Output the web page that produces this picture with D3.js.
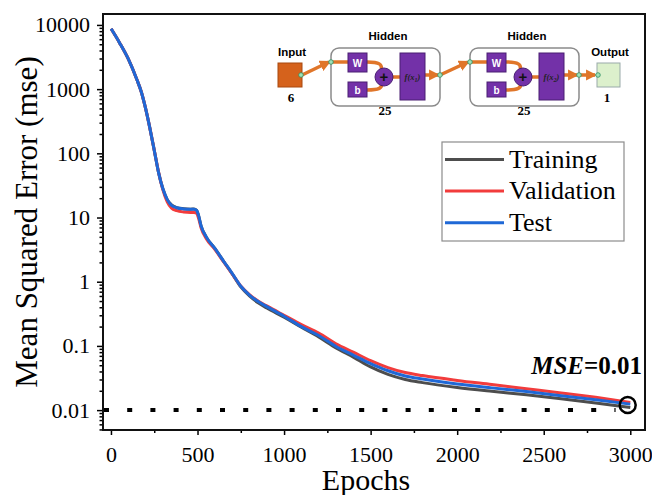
<!DOCTYPE html>
<html>
<head>
<meta charset="utf-8">
<script src="https://cdn.jsdelivr.net/npm/d3@7"></script>
<style>
body { margin:0; background:#fff; }
svg { display:block; }
.serif { font-family:"Times New Roman","Liberation Serif",serif; }
.sans { font-family:Tahoma,"Liberation Sans",Arial,sans-serif; }
</style>
</head>
<body>
<svg width="652" height="495"></svg>
<script>
var epochs = [1, 50, 100, 150, 175, 200, 225, 250, 275, 300, 325, 350, 380, 420, 460, 480, 495, 505, 520, 550, 600, 650, 700, 750, 800, 850, 900, 1000, 1100, 1200, 1300, 1400, 1500, 1600, 1700, 1800, 2000, 2200, 2400, 2600, 2800, 3000]

var training = [8700, 5250, 2950, 1400, 910, 500, 245, 112, 50, 28, 19, 15.8, 14.3, 13.7, 13.5, 13.6, 13.0, 11.0, 7.5, 5.0, 3.3, 2.1, 1.33, 0.83, 0.60, 0.47, 0.39, 0.28, 0.195, 0.138, 0.093, 0.067, 0.047, 0.036, 0.030, 0.0268, 0.0225, 0.0196, 0.0173, 0.0150, 0.0129, 0.0110]
var validation = [8700, 5250, 2950, 1400, 910, 500, 245, 112, 51, 27, 17.5, 14.0, 12.8, 12.2, 12.0, 12.0, 11.6, 10.0, 7.0, 4.7, 3.2, 2.05, 1.33, 0.86, 0.63, 0.50, 0.42, 0.30, 0.215, 0.158, 0.108, 0.080, 0.059, 0.046, 0.0385, 0.0345, 0.0290, 0.0250, 0.0215, 0.0185, 0.0158, 0.0132]
var test = [8700, 5250, 2950, 1400, 910, 500, 245, 112, 50, 28, 19, 15.5, 14.2, 13.6, 13.4, 13.5, 12.9, 11.0, 7.5, 5.0, 3.3, 2.1, 1.35, 0.85, 0.62, 0.49, 0.41, 0.29, 0.20, 0.145, 0.098, 0.072, 0.053, 0.041, 0.034, 0.0305, 0.0255, 0.0222, 0.0195, 0.0168, 0.0145, 0.0124]

var seriesNames = ['Training', 'Validation', 'Test']
var seriesColors = ['#4d4d4d', '#f23c3c', '#1f68d6']

var xTicks = [0, 500, 1000, 1500, 2000, 2500, 3000]
var xMinor = [250, 750, 1250, 1750, 2250, 2750]
var yTicks = [0.01, 0.1, 1, 10, 100, 1000, 10000]
var yTickLabels = ['0.01', '0.1', '1', '10', '100', '1000', '10000']

var goal = 0.01
var finalMark = {epoch: 2985, value: 0.012}

var svg = d3.select('svg')
var plotL = 103, plotT = 14, plotR = 645, plotB = 430

var x = d3.scaleLinear().domain([-46, 3085]).range([plotL, plotR])
var y = d3.scaleLog().domain([0.0049, 14800]).range([plotB, plotT])

// minor log ticks
var yMinor = []
for (var e = -3; e <= 4; e++) {
  for (var m = 2; m <= 9; m++) {
    var v = m * Math.pow(10, e)
    if (v >= y.domain()[0] && v <= y.domain()[1]) yMinor.push(v)
  }
}

// y axis
var yAx = svg.append('g').attr('transform', 'translate(' + plotL + ',0)')
  .call(d3.axisLeft(y).tickValues(yTicks).tickSize(6).tickPadding(7)
    .tickFormat(function(d, i) { return yTickLabels[i] }))
yAx.append('g').call(d3.axisLeft(y).tickValues(yMinor).tickSize(3.5).tickFormat(''))
yAx.selectAll('.domain').remove()
yAx.selectAll('line').attr('stroke', '#000').attr('stroke-width', 1.5)
yAx.selectAll('text').attr('class', 'serif').attr('font-size', 22).attr('fill', '#000')

// x axis
var xAx = svg.append('g').attr('transform', 'translate(0,' + plotB + ')')
  .call(d3.axisBottom(x).tickValues(xTicks).tickSize(5).tickPadding(11).tickFormat(d3.format('d')))
xAx.append('g').call(d3.axisBottom(x).tickValues(xMinor).tickSize(3).tickFormat(''))
xAx.selectAll('.domain').remove()
xAx.selectAll('line').attr('stroke', '#000').attr('stroke-width', 1.5)
xAx.selectAll('text').attr('class', 'serif').attr('font-size', 22).attr('fill', '#000')

// frame
svg.append('rect').attr('x', plotL).attr('y', plotT).attr('width', plotR - plotL).attr('height', plotB - plotT)
  .attr('fill', 'none').attr('stroke', '#111').attr('stroke-width', 2)

// goal line
svg.append('line')
  .attr('x1', plotL + 1).attr('x2', x(2915))
  .attr('y1', y(goal)).attr('y2', y(goal))
  .attr('stroke', '#000').attr('stroke-width', 4)
  .attr('stroke-dasharray', '5,18.2')

// curves
var allSeries = [training, validation, test]
var line = d3.line()
  .x(function(d) { return x(d[0]) })
  .y(function(d) { return y(d[1]) })
  .curve(d3.curveMonotoneX)

allSeries.forEach(function(vals, i) {
  svg.append('path')
    .datum(epochs.map(function(ep, j) { return [ep, vals[j]] }))
    .attr('d', line)
    .attr('fill', 'none')
    .attr('stroke', seriesColors[i])
    .attr('stroke-width', 3)
    .attr('stroke-linejoin', 'round')
})

// final mse marker
svg.append('circle')
  .attr('cx', x(finalMark.epoch)).attr('cy', y(finalMark.value)).attr('r', 8)
  .attr('fill', 'none').attr('stroke', '#000').attr('stroke-width', 2.5)

var mseText = svg.append('text').attr('class', 'serif')
  .attr('x', 642).attr('y', 374).attr('text-anchor', 'end')
  .attr('font-size', 25).attr('font-weight', 'bold')
mseText.append('tspan').attr('font-style', 'italic').text('MSE')
mseText.append('tspan').text('=0.01')

// legend
var lg = svg.append('g')
lg.append('rect').attr('x', 442).attr('y', 142).attr('width', 182).attr('height', 99)
  .attr('fill', '#fff').attr('stroke', '#8c8c8c').attr('stroke-width', 1.2)
seriesNames.forEach(function(name, i) {
  var ly = 159.5 + i * 31.6
  lg.append('line').attr('x1', 445).attr('x2', 504).attr('y1', ly).attr('y2', ly)
    .attr('stroke', seriesColors[i]).attr('stroke-width', 3)
  lg.append('text').attr('class', 'serif').attr('x', 509).attr('y', ly + 8)
    .attr('font-size', 26).text(name)
})

// axis titles
svg.append('text').attr('class', 'serif')
  .attr('transform', 'translate(37,' + ((plotT + plotB) / 2) + ') rotate(-90)')
  .attr('text-anchor', 'middle').attr('font-size', 31)
  .text('Mean Squared Error (mse)')
svg.append('text').attr('class', 'serif')
  .attr('x', 366).attr('y', 490).attr('text-anchor', 'middle').attr('font-size', 30)
  .text('Epochs')

// network diagram
var net = svg.append('g')
var orange = '#e0762a', purple = '#7331a8', purpleDark = '#4a1f72'

net.append('defs').append('marker')
  .attr('id', 'arr').attr('viewBox', '0 0 10 10').attr('refX', 8).attr('refY', 5)
  .attr('markerWidth', 3.2).attr('markerHeight', 3.2).attr('orient', 'auto')
  .append('path').attr('d', 'M0,0 L10,5 L0,10 z').attr('fill', orange)

function label(tx, ty, txt, cls, size) {
  net.append('text').attr('class', cls).attr('x', tx).attr('y', ty)
    .attr('text-anchor', 'middle').attr('font-size', size).attr('font-weight', 'bold').text(txt)
}

label(292, 56, 'Input', 'sans', 11.5)
label(610, 56, 'Output', 'sans', 11.5)
label(291, 102, '6', 'serif', 13)
label(607, 102, '1', 'serif', 13)

net.append('rect').attr('x', 278).attr('y', 63).attr('width', 24).attr('height', 24)
  .attr('fill', '#d5621c').attr('stroke', '#a8480f')
net.append('rect').attr('x', 597).attr('y', 63).attr('width', 23).attr('height', 24)
  .attr('fill', '#dcf0cc').attr('stroke', '#9aa')

function orangePath(d, arrow) {
  var p = net.append('path').attr('d', d).attr('fill', 'none')
    .attr('stroke', orange).attr('stroke-width', 3.5)
  if (arrow) p.attr('marker-end', 'url(#arr)')
}

orangePath('M302,75 L329,62', true)
orangePath('M440,75 L468,62', true)
orangePath('M579,75 L595,75', true)

var boxes = [{bx: 331, sub: '1'}, {bx: 470, sub: '2'}]
boxes.forEach(function(b) {
  var bx = b.bx
  label(bx + 57, 40, 'Hidden', 'sans', 11.5)
  label(bx + 54, 115, '25', 'serif', 13)
  net.append('rect').attr('x', bx).attr('y', 48).attr('width', 109).attr('height', 58).attr('rx', 8)
    .attr('fill', '#fff').attr('stroke', '#8a8a8a').attr('stroke-width', 1.5)
  orangePath('M' + bx + ',62 L' + (bx + 17) + ',62', false)
  orangePath('M' + (bx + 36) + ',62 C' + (bx + 48) + ',62 ' + (bx + 52) + ',64 ' + (bx + 50) + ',71', false)
  orangePath('M' + (bx + 36) + ',90 C' + (bx + 48) + ',90 ' + (bx + 52) + ',88 ' + (bx + 50) + ',83', false)
  orangePath('M' + (bx + 60) + ',77 L' + (bx + 69) + ',77', false)
  orangePath('M' + (bx + 94) + ',75 L' + (bx + 107) + ',75', true)
  net.append('rect').attr('x', bx + 17).attr('y', 53).attr('width', 19).attr('height', 19)
    .attr('fill', purple).attr('stroke', purpleDark)
  net.append('rect').attr('x', bx + 17).attr('y', 82).attr('width', 19).attr('height', 15)
    .attr('fill', purple).attr('stroke', purpleDark)
  net.append('circle').attr('cx', bx + 53).attr('cy', 77).attr('r', 9)
    .attr('fill', purple).attr('stroke', purpleDark)
  net.append('rect').attr('x', bx + 69).attr('y', 53).attr('width', 25).attr('height', 47)
    .attr('fill', purple).attr('stroke', purpleDark)
  net.append('text').attr('class', 'sans').attr('x', bx + 26.5).attr('y', 67).attr('text-anchor', 'middle')
    .attr('font-size', 10).attr('font-weight', 'bold').attr('fill', '#fff').text('W')
  net.append('text').attr('class', 'sans').attr('x', bx + 26.5).attr('y', 94).attr('text-anchor', 'middle')
    .attr('font-size', 10).attr('font-weight', 'bold').attr('fill', '#fff').text('b')
  net.append('text').attr('class', 'sans').attr('x', bx + 53).attr('y', 82).attr('text-anchor', 'middle')
    .attr('font-size', 15).attr('font-weight', 'bold').attr('fill', '#111').text('+')
  var ft = net.append('text').attr('class', 'serif').attr('x', bx + 81.5).attr('y', 80).attr('text-anchor', 'middle')
    .attr('font-size', 8.5).attr('font-style', 'italic').attr('font-weight', 'bold').attr('fill', '#222')
  ft.append('tspan').text('f(x')
  ft.append('tspan').attr('font-size', 6).attr('dy', 1.5).text(b.sub)
  ft.append('tspan').attr('dy', -1.5).text(')')
})

// small connector dots
var dots = [[301, 75], [331, 62], [440, 75], [470, 62], [579, 75], [598, 75]]
net.selectAll('.dot').data(dots).enter().append('circle')
  .attr('cx', function(d) { return d[0] }).attr('cy', function(d) { return d[1] }).attr('r', 2.3)
  .attr('fill', '#9fe0b8').attr('stroke', '#2f8f62').attr('stroke-width', 0.8)
</script>
</body>
</html>
